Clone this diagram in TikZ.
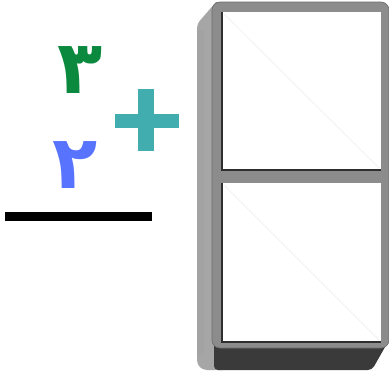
\documentclass[tikz,border=0pt]{standalone}
\usepackage{fontspec}
\TeXXeTstate=1
\newfontfamily\arabicfont[Script=Arabic]{DejaVu Sans}
\usetikzlibrary{positioning}
\definecolor{DigitGreen}{HTML}{0B8A3F}
\definecolor{DigitBlue}{HTML}{5874FF}
\definecolor{PlusTeal}{HTML}{41ADAE}
\definecolor{TileFace}{HTML}{8C8C8C}
\definecolor{TileSide}{HTML}{A6A6A6}
\definecolor{TileBase}{HTML}{3A3A3A}
\definecolor{TileEdge}{HTML}{2E2E2E}
\tikzset{
  digit/.style={font=\arabicfont\bfseries\fontsize{74}{74}\selectfont,
                inner sep=0pt, anchor=base},
  cellbox/.style={fill=white, draw=none},
  cellshadow/.style={draw=TileEdge, line width=1.6pt},
}

\begin{document}
\begin{tikzpicture}[x=1pt, y=-1pt]
  \useasboundingbox (0,0) rectangle (389,372);

  % the two numbers to add
  \node[digit, text=DigitGreen] (three) at (80,93) {\beginR ٣\endR};
  \node[digit, text=DigitBlue] (two) at (75,188) {\beginR ٢\endR};

  % plus sign and sum bar
  \fill[PlusTeal] (138,89) rectangle (154,151);
  \fill[PlusTeal] (115,114) rectangle (179,128);
  \fill[black] (5,212) rectangle (152,221);

  % the domino tile, seen from the front left
  \fill[TileSide] (216,2) [rounded corners=4pt] -- (197,24)
    [rounded corners=10pt] -- (197,370) [sharp corners] -- (222,370)
    -- (222,2) -- cycle;
  \fill[TileFace!80!white] (197,30) rectangle (204,356);
  \fill[TileBase, rounded corners=4pt]
    (214,340) -- (389,340) -- (372,370) -- (214,370) -- cycle;
  \filldraw[fill=TileFace, draw=TileEdge!70, line width=0.6pt,
            rounded corners=8pt] (212,2) rectangle (389,348);

  \foreach \top/\bot in {12/170, 183/342} {
    \fill[cellbox] (222,\top) rectangle (381,\bot);
    \draw[gray!10, line width=0.8pt] (224,\top+2) -- (379,\bot-2);
    \draw[cellshadow] (222,\top) -- (222,\bot) -- (381,\bot);
  }
\end{tikzpicture}
\end{document}
